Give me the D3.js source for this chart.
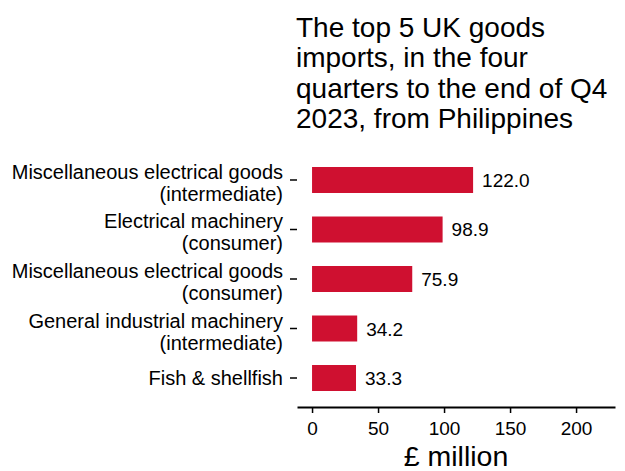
<!DOCTYPE html>
<html>
<head>
<meta charset="utf-8">
<script src="https://cdn.jsdelivr.net/npm/d3@7"></script>
<style>
  body { margin: 0; background: #fff; }
  text { font-family: "Liberation Sans", Arial, sans-serif; fill: #000; }
</style>
</head>
<body>
<div id="chart"></div>
<script>
// data
const categories = [
  ["Miscellaneous electrical goods", "(intermediate)"],
  ["Electrical machinery", "(consumer)"],
  ["Miscellaneous electrical goods", "(consumer)"],
  ["General industrial machinery", "(intermediate)"],
  ["Fish & shellfish"]
];
const values = [122.0, 98.9, 75.9, 34.2, 33.3];
const xTicks = [0, 50, 100, 150, 200];
const titleLines = [
  "The top 5 UK goods",
  "imports, in the four",
  "quarters to the end of Q4",
  "2023, from Philippines"
];

const width = 625, height = 471;
const barColor = "#cf1030";

const svg = d3.select("#chart")
  .append("svg")
  .attr("width", width)
  .attr("height", height);

// scales
const x = d3.scaleLinear()
  .domain([-11.4, 229.5])
  .range([297, 615]);

const y = d3.scaleBand()
  .domain(d3.range(categories.length))
  .range([167, 391])
  .paddingInner(0.475)
  .paddingOuter(0);

// title
svg.append("text")
  .attr("font-size", "28px")
  .selectAll("tspan")
  .data(titleLines)
  .join("tspan")
  .attr("x", 296)
  .attr("y", (d, i) => 37 + i * 30.3)
  .text(d => d);

// bars
svg.selectAll(".bar")
  .data(values)
  .join("rect")
  .attr("class", "bar")
  .attr("x", x(0))
  .attr("y", (d, i) => y(i))
  .attr("width", d => x(d) - x(0))
  .attr("height", y.bandwidth())
  .attr("fill", barColor);

// value labels
svg.selectAll(".val")
  .data(values)
  .join("text")
  .attr("class", "val")
  .attr("x", d => x(d) + 9)
  .attr("y", (d, i) => y(i) + y.bandwidth() / 2 + 7)
  .attr("font-size", "19px")
  .text(d => d.toFixed(1));

// y axis ticks + labels
const yAxis = svg.append("g");
categories.forEach((lines, i) => {
  const cy = y(i) + y.bandwidth() / 2;
  yAxis.append("line")
    .attr("x1", 290).attr("x2", 297)
    .attr("y1", cy).attr("y2", cy)
    .attr("stroke", "#000").attr("stroke-width", 1.5);
  const t = yAxis.append("text")
    .attr("text-anchor", "end")
    .attr("font-size", "20px");
  const base = lines.length === 1 ? cy + 7 : cy - 1;
  lines.forEach((l, j) => {
    t.append("tspan")
      .attr("x", 283)
      .attr("y", base + j * 22)
      .text(l);
  });
});

// x axis
const xAxis = svg.append("g")
  .attr("transform", "translate(0,407)")
  .call(d3.axisBottom(x).tickValues(xTicks).tickSize(6).tickPadding(8).tickSizeOuter(0));
xAxis.select(".domain").attr("stroke", "#000").attr("stroke-width", 2);
xAxis.selectAll(".tick line").attr("stroke", "#000").attr("stroke-width", 1.5);
xAxis.selectAll(".tick text")
  .attr("font-size", "19px")
  .attr("font-family", "Liberation Sans, Arial, sans-serif")
  .attr("fill", "#000")
  .attr("dy", null)
  .attr("y", 28);

// x axis title
svg.append("text")
  .attr("x", (x.range()[0] + x.range()[1]) / 2)
  .attr("y", 466)
  .attr("text-anchor", "middle")
  .attr("font-size", "28.5px")
  .text("£ million");
</script>
</body>
</html>
